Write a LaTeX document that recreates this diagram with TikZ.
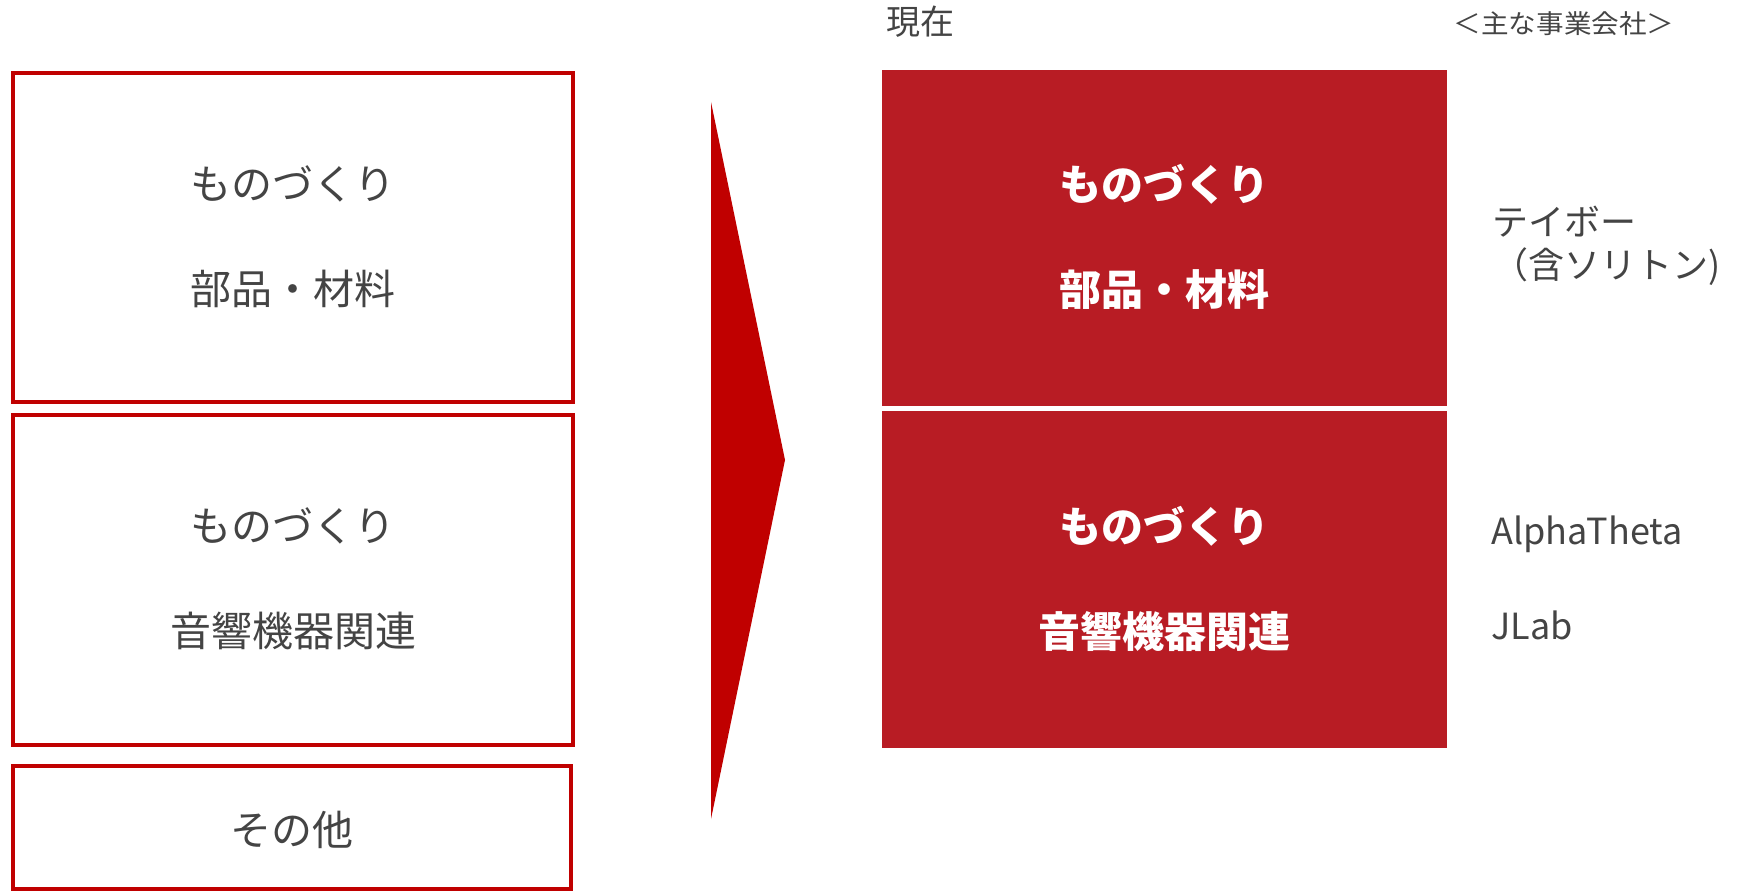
\documentclass[tikz,border=0pt]{standalone}
\usepackage{fontspec}
\setmainfont{Noto Sans CJK JP}
\definecolor{lred}{HTML}{C00000}
\definecolor{bred}{HTML}{B81C24}
\definecolor{tgray}{HTML}{444444}
\tikzset{
  x=1pt,y=1pt,
  leftbox/.style={draw=lred,line width=4pt,rectangle,inner sep=0pt,outer sep=0pt,anchor=north west},
  rightbox/.style={fill=bred,rectangle,inner sep=0pt,outer sep=0pt,anchor=north west},
  lefttext/.style={text=tgray,align=center,inner sep=0pt,yshift=1pt,font=\fontsize{41}{105}\selectfont},
  righttext/.style={text=white,align=center,inner sep=0pt,yshift=1pt,font=\fontsize{42}{105}\selectfont\bfseries},
  label/.style={text=tgray,inner sep=0pt,font=\fontsize{36}{45}\selectfont},
}
\begin{document}
\begin{tikzpicture}
\useasboundingbox (0,0) rectangle (1742,-893);
% left boxes
\node[leftbox,minimum width=560,minimum height=329] (L1) at (13,-73) {};
\node[leftbox,minimum width=560,minimum height=330] (L2) at (13,-415) {};
\node[leftbox,minimum width=558,minimum height=123] (L3) at (13,-766) {};
\node[lefttext] (L1t) at (L1.center) {ものづくり\\部品・材料};
\node[lefttext] (L2t) at (L2.center) {ものづくり\\音響機器関連};
\node[lefttext,yshift=-3pt] (L3t) at (L3.center) {その他};
% arrow
\coordinate (A1) at (711,-102);
\coordinate (A2) at (785,-460);
\coordinate (A3) at (711,-819);
\fill[lred] (A1) -- (A2) -- (A3) -- cycle;
% right boxes
\node[rightbox,minimum width=565,minimum height=336] (R1) at (882,-70) {};
\node[rightbox,minimum width=565,minimum height=337] (R2) at (882,-411) {};
\node[righttext] (R1t) at (R1.center) {ものづくり\\部品・材料};
\node[righttext] (R2t) at (R2.center) {ものづくり\\音響機器関連};
% headings
\node[label,font=\fontsize{34}{40}\selectfont] (now) at (920,-22) {現在};
\node[label,font=\fontsize{26}{30}\selectfont,xscale=1.06] (comp) at (1564,-24) {＜主な事業会社＞};
% company labels
\node[label,anchor=west] (teibo) at (1492,-222) {テイボー};
\node[label,anchor=west] (soliton) at (1492,-267) {（含ソリトン)};
\node[label,anchor=west] (alpha) at (1491,-534) {AlphaTheta};
\node[label,anchor=west] (jlab) at (1491,-625) {JLab};
\end{tikzpicture}
\end{document}
